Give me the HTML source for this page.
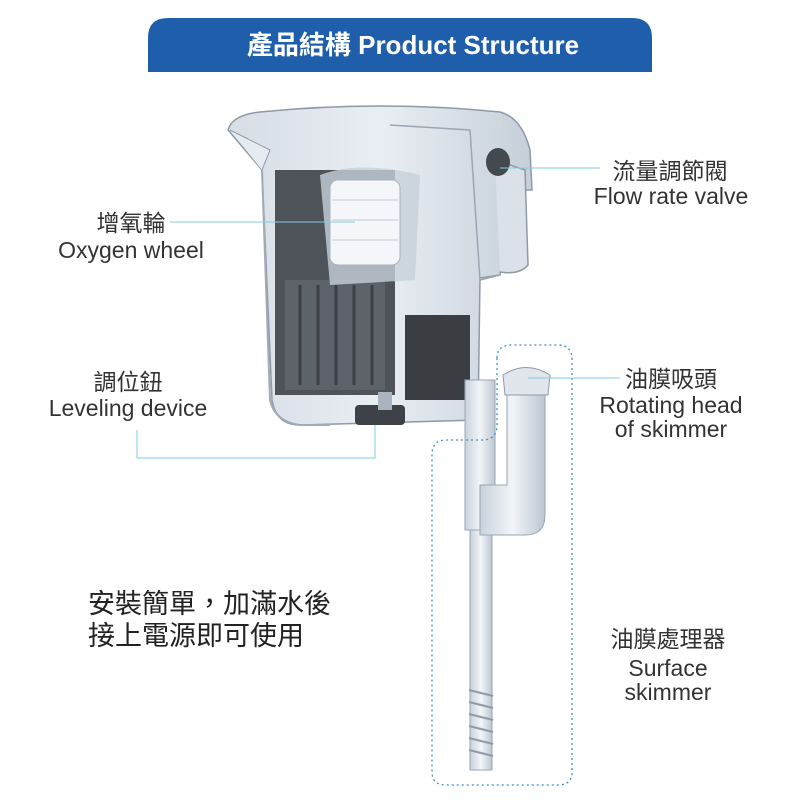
<!DOCTYPE html>
<html><head><meta charset="utf-8"><style>
body{margin:0;width:800px;height:800px;background:#fff;overflow:hidden;font-family:"Liberation Sans","Noto Sans CJK TC",sans-serif;}
</style></head><body>
<svg width="800" height="800" viewBox="0 0 800 800" xmlns="http://www.w3.org/2000/svg" style="position:absolute;left:0;top:0">
<defs>
<linearGradient id="cl" x1="0" x2="1"><stop offset="0" stop-color="#d6dde5"/><stop offset="0.5" stop-color="#e9eef3"/><stop offset="1" stop-color="#c6cfd9"/></linearGradient>
<linearGradient id="tb" x1="0" x2="1"><stop offset="0" stop-color="#c9d2dc"/><stop offset="0.5" stop-color="#f2f5f8"/><stop offset="1" stop-color="#bcc6d1"/></linearGradient>
</defs>
<path d="M148 72 V38 Q148 18 168 18 H632 Q652 18 652 38 V72 Z" fill="#1e5eaa"/>
<text x="413" y="54" fill="#fff" font-size="26" font-weight="bold" text-anchor="middle" font-family="Liberation Sans,Noto Sans CJK TC,sans-serif">產品結構 Product Structure</text>
<path d="M228 130 Q232 115 260 112 Q380 100 500 112 Q522 118 530 150 L532 190 L518 190 L505 240 L500 275 L480 278 L478 420 L300 425 Q276 425 272 400 L262 170 Z" fill="url(#cl)" stroke="#8e9aa8" stroke-width="1.5"/>
<rect x="275" y="170" width="120" height="225" fill="#4d5359"/>
<rect x="285" y="280" width="100" height="110" fill="#5d636a"/>
<g stroke="#3c4046" stroke-width="3"><line x1="300" y1="285" x2="300" y2="385"/><line x1="318" y1="285" x2="318" y2="385"/><line x1="336" y1="285" x2="336" y2="385"/><line x1="354" y1="285" x2="354" y2="385"/><line x1="372" y1="285" x2="372" y2="385"/></g>
<rect x="405" y="315" width="65" height="85" fill="#3a3e43"/>
<path d="M320 175 Q360 160 420 175 L415 280 L330 285 Z" fill="#c7cfd8" opacity="0.8"/>
<rect x="330" y="180" width="70" height="85" rx="8" fill="#f4f6f9" stroke="#aab4bf"/>
<g stroke="#c5ccd5"><line x1="332" y1="200" x2="398" y2="200"/><line x1="332" y1="220" x2="398" y2="220"/><line x1="332" y1="240" x2="398" y2="240"/></g>
<path d="M262 170 L270 400 Q275 422 300 425 L330 425" fill="none" stroke="#a0abb8" stroke-width="2"/>
<path d="M230 130 L270 150 L262 170" fill="#e6ebf0" stroke="#8e9aa8"/>
<path d="M390 125 L470 130 L480 280 L500 275 L505 240 L518 190" fill="none" stroke="#9aa6b3" stroke-width="1.5"/>
<path d="M495 160 L525 170 L528 265 Q520 275 500 272" fill="#dbe1e8" stroke="#8e9aa8" stroke-width="1.5"/>
<ellipse cx="498" cy="162" rx="12" ry="14" fill="#44494f"/>
<rect x="355" y="405" width="50" height="20" rx="4" fill="#3e4248"/>
<rect x="378" y="392" width="14" height="18" fill="#aab4bf"/>
<rect x="465" y="380" width="30" height="150" fill="url(#tb)" stroke="#9aa6b3"/>
<rect x="470" y="530" width="22" height="240" fill="url(#tb)" stroke="#9aa6b3"/>
<g stroke="#8e9aa8" stroke-width="2"><line x1="469" y1="690" x2="493" y2="696"/><line x1="469" y1="702" x2="493" y2="708"/><line x1="469" y1="714" x2="493" y2="720"/><line x1="469" y1="726" x2="493" y2="732"/><line x1="469" y1="738" x2="493" y2="744"/><line x1="469" y1="750" x2="493" y2="756"/></g>
<path d="M507 395 H545 V515 Q545 535 525 535 H480 V485 H507 Z" fill="url(#tb)" stroke="#9aa6b3"/>
<path d="M503 375 Q526 360 550 375 L548 395 L505 395 Z" fill="#e0e6ec" stroke="#8e9aa8"/>
<path d="M497 358 Q497 345 512 345 H558 Q572 345 572 360 V772 Q572 785 558 785 H446 Q432 785 432 772 V455 Q432 440 446 440 H482 Q497 440 497 425 Z" fill="none" stroke="#3b8fd0" stroke-width="1.3" stroke-dasharray="2 3"/>
<g stroke="#7fcfe2" stroke-width="1" fill="none">
<line x1="500" y1="168" x2="600" y2="168"/>
<line x1="170" y1="222" x2="355" y2="222"/>
<line x1="528" y1="378" x2="620" y2="378"/>
<polyline points="137,430 137,458 375,458 375,425"/>
</g>
<g fill="#333" font-size="23" text-anchor="middle" font-family="Liberation Sans,Noto Sans CJK TC,sans-serif">
<text x="670" y="179">流量調節閥</text>
<text x="671" y="204">Flow rate valve</text>
<text x="131" y="231">增氧輪</text>
<text x="131" y="258">Oxygen wheel</text>
<text x="128" y="390">調位鈕</text>
<text x="128" y="416">Leveling device</text>
<text x="671" y="387">油膜吸頭</text>
<text x="671" y="413">Rotating head</text>
<text x="671" y="437">of skimmer</text>
<text x="668" y="647">油膜處理器</text>
<text x="668" y="676">Surface</text>
<text x="668" y="700">skimmer</text>
</g>
<g fill="#222" font-size="27" font-family="Liberation Sans,Noto Sans CJK TC,sans-serif">
<text x="88" y="613">安裝簡單，加滿水後</text>
<text x="88" y="645">接上電源即可使用</text>
</g>
</svg>
</body></html>
